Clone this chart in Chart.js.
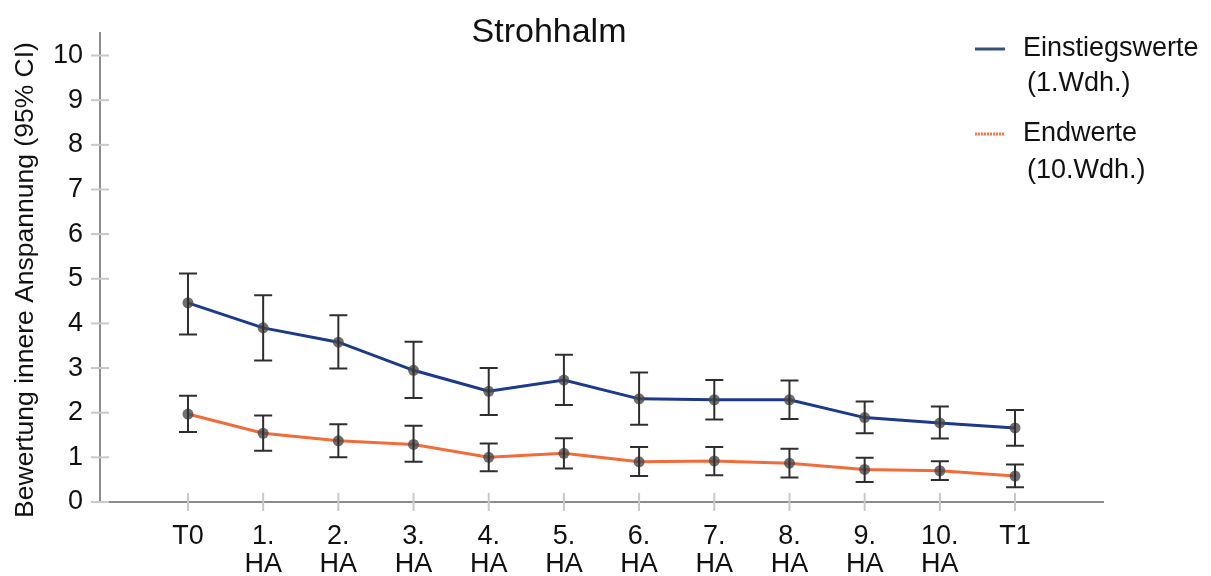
<!DOCTYPE html>
<html>
<head>
<meta charset="utf-8">
<script src="https://cdn.jsdelivr.net/npm/chart.js@4"></script>
<style>
  body { margin: 0; background: #fff; }
  #wrap { width: 1211px; height: 576px; }
</style>
</head>
<body>
<div id="wrap"><canvas id="strohhalm-chart" width="1211" height="576"></canvas></div>
<script>
var categories = ["T0", "1. HA", "2. HA", "3. HA", "4. HA", "5. HA", "6. HA", "7. HA", "8. HA", "9. HA", "10. HA", "T1"];

// Einstiegswerte (1.Wdh.) - mean and 95% CI
var startMean = [4.46, 3.90, 3.58, 2.95, 2.48, 2.73, 2.31, 2.29, 2.29, 1.89, 1.77, 1.66];
var startHigh = [5.12, 4.63, 4.18, 3.59, 3.00, 3.30, 2.90, 2.73, 2.72, 2.25, 2.14, 2.06];
var startLow = [3.75, 3.17, 2.99, 2.33, 1.95, 2.17, 1.73, 1.85, 1.86, 1.54, 1.42, 1.26];

// Endwerte (10.Wdh.) - mean and 95% CI
var endMean = [1.97, 1.54, 1.37, 1.29, 1.00, 1.09, 0.90, 0.92, 0.87, 0.73, 0.70, 0.58];
var endHigh = [2.38, 1.94, 1.74, 1.71, 1.31, 1.43, 1.23, 1.23, 1.19, 0.99, 0.91, 0.84];
var endLow = [1.57, 1.15, 1.00, 0.90, 0.69, 0.75, 0.58, 0.60, 0.55, 0.45, 0.49, 0.33];

var yTicks = [0, 1, 2, 3, 4, 5, 6, 7, 8, 9, 10];

var FONT = "'Liberation Sans', Arial, sans-serif";
var BLUE = "#1c3a8c";
var ORANGE = "#f26c3a";

function toPoints(values) {
  return values.map(function (v, i) { return { x: i, y: v }; });
}

// error bars, axis tick marks, titles and legend
var extras = {
  id: "extras",
  afterDatasetsDraw: function (chart) {
    var ctx = chart.ctx;
    var xs = chart.scales.x, ys = chart.scales.y;
    var area = chart.chartArea;

    ctx.save();
    // tick marks crossing the axes
    ctx.strokeStyle = "#c8c8c8";
    ctx.lineWidth = 2;
    yTicks.forEach(function (t) {
      var py = ys.getPixelForValue(t);
      ctx.beginPath();
      ctx.moveTo(area.left - 9, py);
      ctx.lineTo(area.left + 9, py);
      ctx.stroke();
    });
    categories.forEach(function (c, i) {
      var px = xs.getPixelForValue(i);
      ctx.beginPath();
      ctx.moveTo(px, area.bottom - 9);
      ctx.lineTo(px, area.bottom + 9);
      ctx.stroke();
    });

    // CI error bars
    ctx.strokeStyle = "#2e2e2e";
    ctx.lineWidth = 2;
    [[startLow, startHigh], [endLow, endHigh]].forEach(function (pair) {
      pair[0].forEach(function (lo, i) {
        var px = xs.getPixelForValue(i);
        var pLo = ys.getPixelForValue(lo);
        var pHi = ys.getPixelForValue(pair[1][i]);
        ctx.beginPath();
        ctx.moveTo(px, pLo); ctx.lineTo(px, pHi);
        ctx.moveTo(px - 9, pLo); ctx.lineTo(px + 9, pLo);
        ctx.moveTo(px - 9, pHi); ctx.lineTo(px + 9, pHi);
        ctx.stroke();
      });
    });

    // title
    ctx.fillStyle = "#111";
    ctx.font = "34px " + FONT;
    ctx.textAlign = "center";
    ctx.textBaseline = "middle";
    ctx.fillText("Strohhalm", 549, 33);

    // y axis title
    ctx.save();
    ctx.translate(26, 280);
    ctx.rotate(-Math.PI / 2);
    ctx.font = "26.5px " + FONT;
    ctx.fillText("Bewertung innere Anspannung (95% CI)", 0, 0);
    ctx.restore();

    // legend
    ctx.font = "27px " + FONT;
    ctx.textAlign = "left";
    ctx.lineWidth = 3;
    ctx.strokeStyle = "#36507c";
    ctx.beginPath(); ctx.moveTo(975, 49); ctx.lineTo(1005, 49); ctx.stroke();
    ctx.fillText("Einstiegswerte", 1023, 49);
    ctx.fillText("(1.Wdh.)", 1027, 84);
    ctx.strokeStyle = "#f07a48";
    ctx.setLineDash([2, 1]);
    ctx.beginPath(); ctx.moveTo(975, 134); ctx.lineTo(1005, 134); ctx.stroke();
    ctx.setLineDash([]);
    ctx.fillText("Endwerte", 1023, 134);
    ctx.fillText("(10.Wdh.)", 1027, 171);
    ctx.restore();
  }
};

var ctx = document.getElementById("strohhalm-chart").getContext("2d");
new Chart(ctx, {
  type: "line",
  data: {
    datasets: [
      {
        label: "Einstiegswerte (1.Wdh.)",
        data: toPoints(startMean),
        borderColor: BLUE,
        borderWidth: 3,
        pointRadius: 5.5,
        pointBackgroundColor: "rgba(75, 75, 75, 0.8)",
        pointBorderWidth: 0,
        tension: 0,
      },
      {
        label: "Endwerte (10.Wdh.)",
        data: toPoints(endMean),
        borderColor: ORANGE,
        borderWidth: 3,
        pointRadius: 5.5,
        pointBackgroundColor: "rgba(75, 75, 75, 0.8)",
        pointBorderWidth: 0,
        tension: 0,
      },
    ],
  },
  options: {
    responsive: false,
    animation: false,
    layout: { padding: { left: 0, right: 108, top: 28.5, bottom: 0 } },
    scales: {
      x: {
        type: "linear",
        min: -1.17,
        max: 12.17,
        afterBuildTicks: function (scale) {
          scale.ticks = categories.map(function (c, i) { return { value: i }; });
        },
        afterFit: function (scale) { scale.height = 74; },
        grid: { display: false, drawTicks: false },
        border: { display: true, color: "#8c8c8c", width: 2 },
        ticks: {
          autoSkip: false,
          maxRotation: 0,
          padding: 20,
          color: "#111",
          font: { family: FONT, size: 27, lineHeight: 1.05 },
          callback: function (value) {
            var label = categories[value];
            return label && label.indexOf(" ") > 0 ? label.split(" ") : label;
          },
        },
      },
      y: {
        min: 0,
        max: 10.5,
        afterBuildTicks: function (scale) {
          scale.ticks = yTicks.map(function (t) { return { value: t }; });
        },
        afterFit: function (scale) { scale.width = 100; },
        grid: { display: false, drawTicks: false },
        border: { display: true, color: "#8c8c8c", width: 2 },
        ticks: {
          padding: 17,
          color: "#111",
          font: { family: FONT, size: 27 },
        },
      },
    },
    plugins: {
      legend: { display: false },
      tooltip: { enabled: false },
    },
  },
  plugins: [extras],
});
</script>
</body>
</html>
